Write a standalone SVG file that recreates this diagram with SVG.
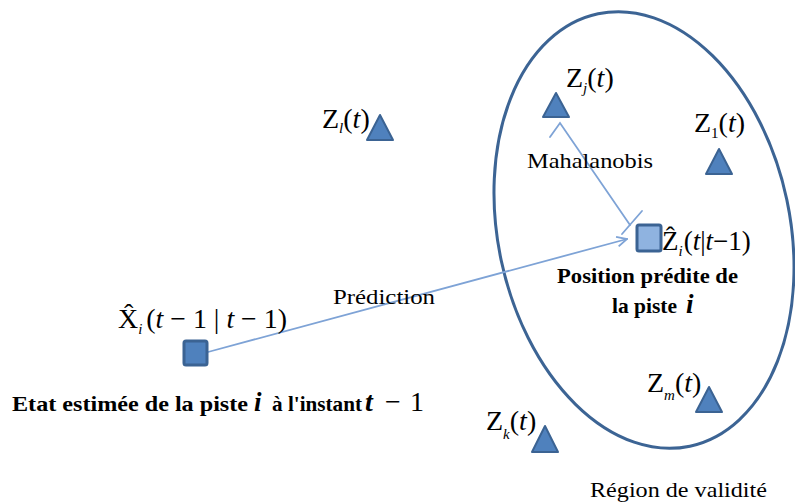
<svg xmlns="http://www.w3.org/2000/svg" width="795" height="503" viewBox="0 0 795 503">
<style>
text{fill:#000;font-family:"Liberation Serif","Times New Roman",serif}
.tri{fill:#4f81bd;stroke:#3b6393;stroke-width:2;stroke-linejoin:round}
.sq{stroke:#3b6393;stroke-width:3}
.conn{fill:none;stroke:#7ea3d6;stroke-width:1.8;stroke-linecap:round}
.m{font-size:28px}
.it{font-style:italic}
.sub{font-style:italic;font-size:15px}
.lbl{font-size:21px}
.b{font-weight:bold}
</style>
<defs>
<marker id="open" viewBox="0 0 12 12" refX="11" refY="6" markerWidth="12" markerHeight="12" markerUnits="userSpaceOnUse" orient="auto">
<path d="M1,1 L11,6 L1,11" fill="none" stroke="#7ea3d6" stroke-width="1.8"/>
</marker>
</defs>
<rect width="795" height="503" fill="#fff"/>

<g id="region">
<ellipse cx="644" cy="230" rx="146" ry="221" transform="rotate(-12 644 230)" fill="none" stroke="#3c6494" stroke-width="3"/>
<text class="lbl" x="590" y="497" textLength="177" lengthAdjust="spacingAndGlyphs">Région de validité</text>
</g>

<g id="connectors">
<path class="conn" d="M208,352 L627,239" marker-end="url(#open)"/>
<path class="conn" d="M630,225 L560,123 L550,137"/>
<path class="conn" d="M642,211 L622,234"/>
<text class="lbl" x="333" y="304" textLength="102" lengthAdjust="spacingAndGlyphs">Prédiction</text>
<text class="lbl" x="527" y="168" textLength="126" lengthAdjust="spacingAndGlyphs">Mahalanobis</text>
</g>

<g id="Zl">
<path class="tri" d="M380,115 L393,140 L367,140 Z"/>
<text class="m" x="322" y="128">Z<tspan class="sub" dy="5">l</tspan><tspan dy="-5">(</tspan><tspan class="it">t</tspan>)</text>
</g>

<g id="Zj">
<path class="tri" d="M556,93 L569,117 L543,117 Z"/>
<text class="m" x="566" y="87">Z<tspan class="sub" dy="6">j</tspan><tspan dy="-6">(</tspan><tspan class="it">t</tspan>)</text>
</g>

<g id="Z1">
<path class="tri" d="M719,149 L732,174 L706,174 Z"/>
<text class="m" x="694" y="132">Z<tspan dy="6" style="font-size:15px">1</tspan><tspan dy="-6">(</tspan><tspan class="it">t</tspan>)</text>
</g>

<g id="Zm">
<path class="tri" d="M709,387 L722,412 L696,412 Z"/>
<text class="m" x="647" y="392">Z<tspan class="sub" dy="8">m</tspan><tspan dy="-8">(</tspan><tspan class="it">t</tspan>)</text>
</g>

<g id="Zk">
<path class="tri" d="M545,426 L558,452 L532,452 Z"/>
<text class="m" x="486" y="430">Z<tspan class="sub" dy="9">k</tspan><tspan dy="-9">(</tspan><tspan class="it">t</tspan>)</text>
</g>

<g id="Xhat">
<rect class="sq" x="184" y="341" width="23" height="24" rx="2" fill="#4f81bd"/>
<text class="m" x="118" y="328" textLength="169" lengthAdjust="spacingAndGlyphs">X̂<tspan class="sub" dy="6">i</tspan><tspan dy="-6" dx="4">(</tspan><tspan class="it">t</tspan> − 1 | <tspan class="it">t</tspan> − 1)</text>
<text class="lbl b" x="12" y="411" textLength="236" lengthAdjust="spacingAndGlyphs" style="font-size:22px">Etat estimée de la piste</text>
<text class="lbl b it" x="254" y="411" style="font-size:27px">i</text>
<text class="lbl b" x="272" y="411" textLength="90" lengthAdjust="spacingAndGlyphs" style="font-size:22px">à l'instant</text>
<text class="m it b" x="365" y="411">t</text>
<text class="m" x="385" y="411">−</text>
<text class="m" x="410" y="411">1</text>
</g>

<g id="Zhat">
<rect class="sq" x="637" y="225" width="24" height="26" rx="2" fill="#8fb3e0"/>
<text class="m" x="662" y="250" style="font-size:27px">Ẑ<tspan class="sub" dy="6">i</tspan><tspan dy="-6" dx="1">(</tspan><tspan class="it">t</tspan>|<tspan class="it">t</tspan>−1)</text>
<text class="lbl b" x="557" y="283" textLength="181" lengthAdjust="spacingAndGlyphs" style="font-size:22px">Position prédite de</text>
<text class="lbl b" x="612" y="313" textLength="65" lengthAdjust="spacingAndGlyphs" style="font-size:22px">la piste</text>
<text class="lbl b it" x="686" y="313" style="font-size:27px">i</text>
</g>
</svg>
